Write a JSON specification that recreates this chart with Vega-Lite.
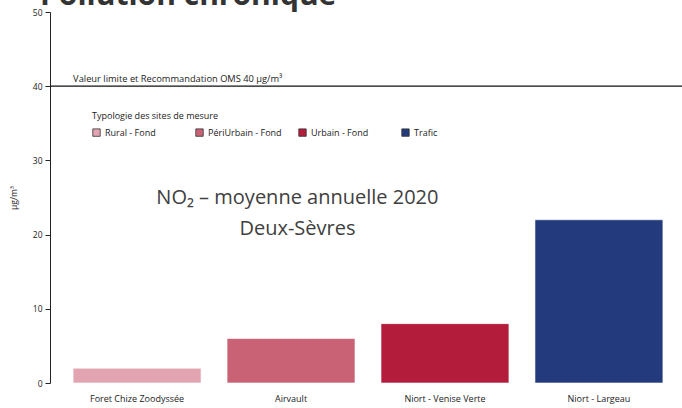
{
  "$schema": "https://vega.github.io/schema/vega-lite/v6.json",
  "autosize": "none",
  "width": 636,
  "height": 371,
  "padding": {"left": 50, "top": 12, "right": 0, "bottom": 25},
  "title": {"text": "Pollution chronique", "fontSize": 30, "fontWeight": "bold", "font": "Open Sans", "color": "#333333", "anchor": "start", "frame": "group", "dx": -10, "dy": 6, "offset": 3},
  "config": {"view": {"stroke": null}, "font": "Open Sans"},
  "layer": [
    {
      "data": {"values": [
        {"site": "Foret Chize Zoodyssée", "value": 2, "typologie": "Rural - Fond"},
        {"site": "Airvault", "value": 6, "typologie": "PériUrbain - Fond"},
        {"site": "Niort - Venise Verte", "value": 8, "typologie": "Urbain - Fond"},
        {"site": "Niort - Largeau", "value": 22, "typologie": "Trafic"}
      ]},
      "mark": {"type": "bar", "stroke": "white", "strokeOpacity": 0.6, "strokeWidth": 1},
      "encoding": {
        "x": {"field": "site", "type": "nominal", "sort": null,
          "scale": {"paddingInner": 0.169, "paddingOuter": 0.15},
          "axis": {"title": null, "domain": false, "ticks": false, "labelAngle": 0, "labelPadding": 11, "labelFontSize": 9, "labelColor": "#222222"}},
        "y": {"field": "value", "type": "quantitative",
          "scale": {"domain": [0, 50], "nice": false},
          "axis": {"title": "µg/m³", "titleFontSize": 8.5, "titleFontWeight": "normal", "titleColor": "#222222", "titlePadding": 14, "grid": false, "values": [0, 10, 20, 30, 40, 50], "tickSize": 5, "tickColor": "#222222", "domainColor": "#222222", "labelFontSize": 8.5, "labelColor": "#222222", "labelPadding": 3}},
        "color": {"field": "typologie", "type": "nominal",
          "scale": {"domain": ["Rural - Fond", "PériUrbain - Fond", "Urbain - Fond", "Trafic"], "range": ["#E2A4B1", "#C96275", "#B31C3B", "#233A7C"]},
          "legend": {"title": "Typologie des sites de mesure", "orient": "none", "legendX": 42, "legendY": 100, "direction": "horizontal", "columns": 4, "gridAlign": "all", "columnPadding": 15, "symbolType": "square", "symbolSize": 55, "symbolStrokeColor": "#333333", "symbolStrokeWidth": 0.8, "symbolOpacity": 1, "labelFontSize": 9, "labelColor": "#222222", "titleFontSize": 9, "titleFontWeight": "normal", "titleColor": "#222222", "titlePadding": 7}}
      }
    },
    {
      "data": {"values": [{"ref": 40}]},
      "mark": {"type": "rule", "color": "#111111", "strokeWidth": 1.2},
      "encoding": {"y": {"field": "ref", "type": "quantitative"}}
    },
    {
      "data": {"values": [{"label": "Valeur limite et Recommandation OMS 40 µg/m³"}]},
      "mark": {"type": "text", "align": "left", "baseline": "bottom", "dy": -2, "fontSize": 9.3, "color": "#222222"},
      "encoding": {
        "x": {"datum": "Foret Chize Zoodyssée", "bandPosition": 0},
        "y": {"datum": 40},
        "text": {"field": "label"}
      }
    },
    {
      "data": {"values": [{"label": "NO₂ – moyenne annuelle 2020\nDeux-Sèvres"}]},
      "mark": {"type": "text", "align": "center", "baseline": "middle", "lineBreak": "\n", "lineHeight": 31, "fontSize": 20, "color": "#404040"},
      "encoding": {
        "x": {"datum": "Airvault", "bandPosition": 0.55},
        "y": {"datum": 24.9},
        "text": {"field": "label"}
      }
    }
  ]
}
